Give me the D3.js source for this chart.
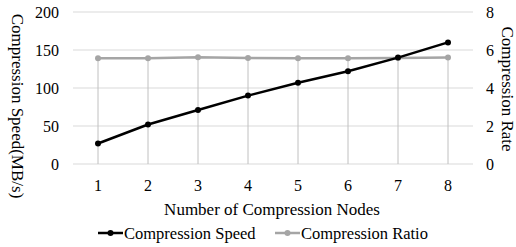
<!DOCTYPE html>
<html lang="en">
<head>
<meta charset="UTF-8">
<script src="https://cdn.jsdelivr.net/npm/d3@7/dist/d3.min.js"></script>
<style>
  body { margin: 0; background: #fff; }
</style>
</head>
<body>
<script>
const nodes = [1, 2, 3, 4, 5, 6, 7, 8]
const speed = [27, 52, 71, 90, 107, 122, 140, 160]
const ratio = [5.57, 5.57, 5.62, 5.58, 5.57, 5.57, 5.58, 5.6]
const leftTicks = [0, 50, 100, 150, 200]
const rightTicks = [0, 2, 4, 6, 8]

const W = 516, H = 247
const plot = {left: 73, right: 473, top: 12, bottom: 164}

const svg = d3.select('body').append('svg')
    .attr('width', W)
    .attr('height', H)
    .attr('font-family', '"Liberation Serif", "Times New Roman", serif')
    .attr('fill', '#000')

const x = d3.scaleBand()
    .domain(nodes)
    .range([plot.left, plot.right])
const cx = d => x(d) + x.bandwidth() / 2

const yL = d3.scaleLinear().domain([0, 200]).range([plot.bottom, plot.top])
const yR = d3.scaleLinear().domain([0, 8]).range([plot.bottom, plot.top])

// horizontal grid
svg.append('g')
  .selectAll('line')
  .data(leftTicks)
  .join('line')
    .attr('x1', plot.left)
    .attr('x2', plot.right)
    .attr('y1', d => yL(d))
    .attr('y2', d => yL(d))
    .attr('stroke', '#d9d9d9')
    .attr('stroke-width', 1)

// drop lines from ratio series
svg.append('g')
  .selectAll('line')
  .data(nodes)
  .join('line')
    .attr('x1', d => cx(d))
    .attr('x2', d => cx(d))
    .attr('y1', (d, i) => yR(ratio[i]))
    .attr('y2', plot.bottom)
    .attr('stroke', '#c0c0c0')
    .attr('stroke-width', 1)

// left axis labels
svg.append('g')
  .selectAll('text')
  .data(leftTicks)
  .join('text')
    .attr('x', 59)
    .attr('y', d => yL(d))
    .attr('dy', '0.35em')
    .attr('text-anchor', 'end')
    .attr('font-size', 16)
    .text(d => d)

// right axis labels
svg.append('g')
  .selectAll('text')
  .data(rightTicks)
  .join('text')
    .attr('x', 486)
    .attr('y', d => yR(d))
    .attr('dy', '0.35em')
    .attr('font-size', 16)
    .text(d => d)

// x labels
svg.append('g')
  .selectAll('text')
  .data(nodes)
  .join('text')
    .attr('x', d => cx(d))
    .attr('y', 185)
    .attr('dy', '0.35em')
    .attr('text-anchor', 'middle')
    .attr('font-size', 16)
    .text(d => d)

// axis titles
svg.append('text')
    .attr('transform', 'translate(18,106) rotate(90)')
    .attr('text-anchor', 'middle')
    .attr('dy', '0.35em')
    .attr('font-size', 17)
    .text('Compression Speed(MB/s)')

svg.append('text')
    .attr('transform', 'translate(508,89) rotate(90)')
    .attr('text-anchor', 'middle')
    .attr('dy', '0.35em')
    .attr('font-size', 17)
    .text('Compression Rate')

svg.append('text')
    .attr('x', 272)
    .attr('y', 209)
    .attr('dy', '0.35em')
    .attr('text-anchor', 'middle')
    .attr('font-size', 17)
    .text('Number of Compression Nodes')

// series
const series = [
  {name: 'Compression Speed', values: speed, y: yL, color: '#000000', width: 2.5},
  {name: 'Compression Ratio', values: ratio, y: yR, color: '#a5a5a5', width: 2.5}
]

series.slice().reverse().forEach(s => {
  const line = d3.line()
      .x((d, i) => cx(nodes[i]))
      .y(d => s.y(d))
  svg.append('path')
      .datum(s.values)
      .attr('fill', 'none')
      .attr('stroke', s.color)
      .attr('stroke-width', s.width)
      .attr('stroke-linejoin', 'round')
      .attr('d', line)
  svg.append('g')
    .selectAll('circle')
    .data(s.values)
    .join('circle')
      .attr('cx', (d, i) => cx(nodes[i]))
      .attr('cy', d => s.y(d))
      .attr('r', 3)
      .attr('fill', s.color)
})

// legend
const legendX = [98, 275]
const legend = svg.append('g')
  .selectAll('g')
  .data(series)
  .join('g')
    .attr('transform', (d, i) => 'translate(' + legendX[i] + ',233)')
legend.append('line')
    .attr('x1', 0).attr('x2', 25)
    .attr('stroke', d => d.color)
    .attr('stroke-width', d => d.width)
legend.append('circle')
    .attr('cx', 12.5).attr('r', 3)
    .attr('fill', d => d.color)
legend.append('text')
    .attr('x', 26)
    .attr('dy', '0.35em')
    .attr('font-size', 16.5)
    .text(d => d.name)
</script>
</body>
</html>
